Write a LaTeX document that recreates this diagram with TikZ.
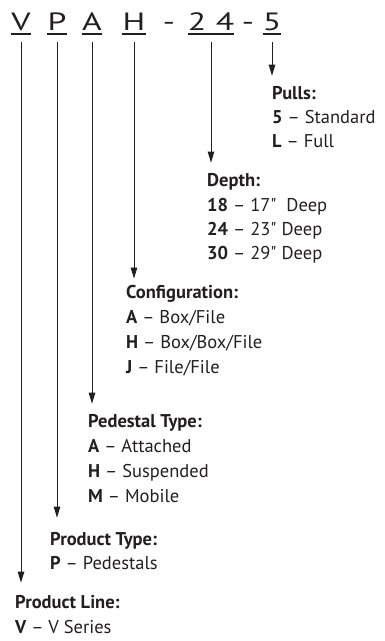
\documentclass[tikz,border=0pt]{standalone}
\usepackage{fontspec}
\setmainfont{PT Sans}[Ligatures=TeXOff]
\usepackage{xcolor}
\usepackage{tikz}
\usetikzlibrary{arrows.meta,calc}
\definecolor{ink}{HTML}{231F20}
\tikzstyle{line} = [draw, ink, line width=0.8pt, -{Triangle[length=11pt, width=6.5pt]}]
\tikzstyle{uline} = [draw, ink, line width=1.4pt]
\tikzstyle{code} = [anchor=base, inner sep=0, text=ink, font=\fontsize{25}{30}\selectfont]
\tikzstyle{head} = [anchor=base west, inner sep=0, text=ink, font=\fontsize{18.5}{22}\selectfont\bfseries]
\tikzstyle{item} = [anchor=base west, inner sep=0, text=ink, font=\fontsize{18.5}{22}\selectfont]
\newcommand{\wide}[1]{\scalebox{1.35}[1]{#1}}

\begin{document}
\begin{tikzpicture}[x=1pt, y=-1pt]
\useasboundingbox (0, 0) rectangle (385, 641);

% model code
\node at (21, 30) [code] (cV) {\wide{V}};
\node at (57, 30) [code] (cP) {\wide{P}};
\node at (92, 30) [code] (cA) {\wide{A}};
\node at (134, 30) [code] (cH) {\wide{H}};
\node at (169, 30) [code] (dash1) {\wide{-}};
\node at (197, 30) [code] (c2) {\wide{2}};
\node at (225, 30) [code] (c4) {\wide{4}};
\node at (248, 30) [code] (dash2) {\wide{-}};
\node at (272, 30) [code] (c5) {\wide{5}};
\coordinate (c24) at ($(c2.base)!0.5!(c4.base)$);

\path [uline] ([yshift=-4pt]cV.base west) -- ([yshift=-4pt]cV.base east);
\path [uline] ([yshift=-4pt]cP.base west) -- ([yshift=-4pt]cP.base east);
\path [uline] ([yshift=-4pt]cA.base west) -- ([yshift=-4pt]cA.base east);
\path [uline] ([yshift=-4pt]cH.base west) -- ([yshift=-4pt]cH.base east);
\path [uline] ([yshift=-4pt]c2.base west) -- ([yshift=-4pt]c4.base east);
\path [uline] ([yshift=-4pt]c5.base west) -- ([yshift=-4pt]c5.base east);

% pulls
\node at (272, 99) [head] (pullsHead) {Pulls:};
\node at (272, 123) [item] (pulls5) {{\bfseries 5} – Standard};
\node at (272, 147) [item] (pullsL) {{\bfseries L} – Full};
\path [line] ([yshift=-12pt]c5.base) -- ([yshift=10pt]c5.base |- pullsHead.north);

% depth
\node at (207, 186) [head] (depthHead) {Depth:};
\node at (207, 211) [item] (depth18) {{\bfseries 18} – 17"~ Deep};
\node at (207, 235) [item] (depth24) {{\bfseries 24} – 23" Deep};
\node at (207, 259) [item] (depth30) {{\bfseries 30} – 29" Deep};
\path [line] ([yshift=-12pt]c24) -- ([yshift=10pt]c24 |- depthHead.north);

% configuration
\node at (126, 298) [head] (confHead) {Configuration:};
\node at (126, 323) [item] (confA) {{\bfseries A} – Box/File};
\node at (126, 348) [item] (confH) {{\bfseries H} – Box/Box/File};
\node at (126, 373) [item] (confJ) {{\bfseries J} – File/File};
\path [line] ([yshift=-12pt]cH.base) -- ([yshift=6pt]cH.base |- confHead.north);

% pedestal type
\node at (88, 427) [head] (pedHead) {Pedestal Type:};
\node at (88, 452) [item] (pedA) {{\bfseries A} – Attached};
\node at (88, 477) [item] (pedH) {{\bfseries H} – Suspended};
\node at (88, 502) [item] (pedM) {{\bfseries M} – Mobile};
\path [line] ([yshift=-12pt]cA.base) -- ([yshift=10pt]cA.base |- pedHead.north);

% product type
\node at (50, 545) [head] (typeHead) {Product Type:};
\node at (50, 569) [item] (typeP) {{\bfseries P} – Pedestals};
\path [line] ([yshift=-12pt]cP.base) -- ([yshift=14pt]cP.base |- typeHead.north);

% product line
\node at (15, 608) [head] (lineHead) {Product Line:};
\node at (15, 633) [item] (lineV) {{\bfseries V} – V Series};
\path [line] ([yshift=-12pt]cV.base) -- ([yshift=12pt]cV.base |- lineHead.north);
\end{tikzpicture}
\end{document}
